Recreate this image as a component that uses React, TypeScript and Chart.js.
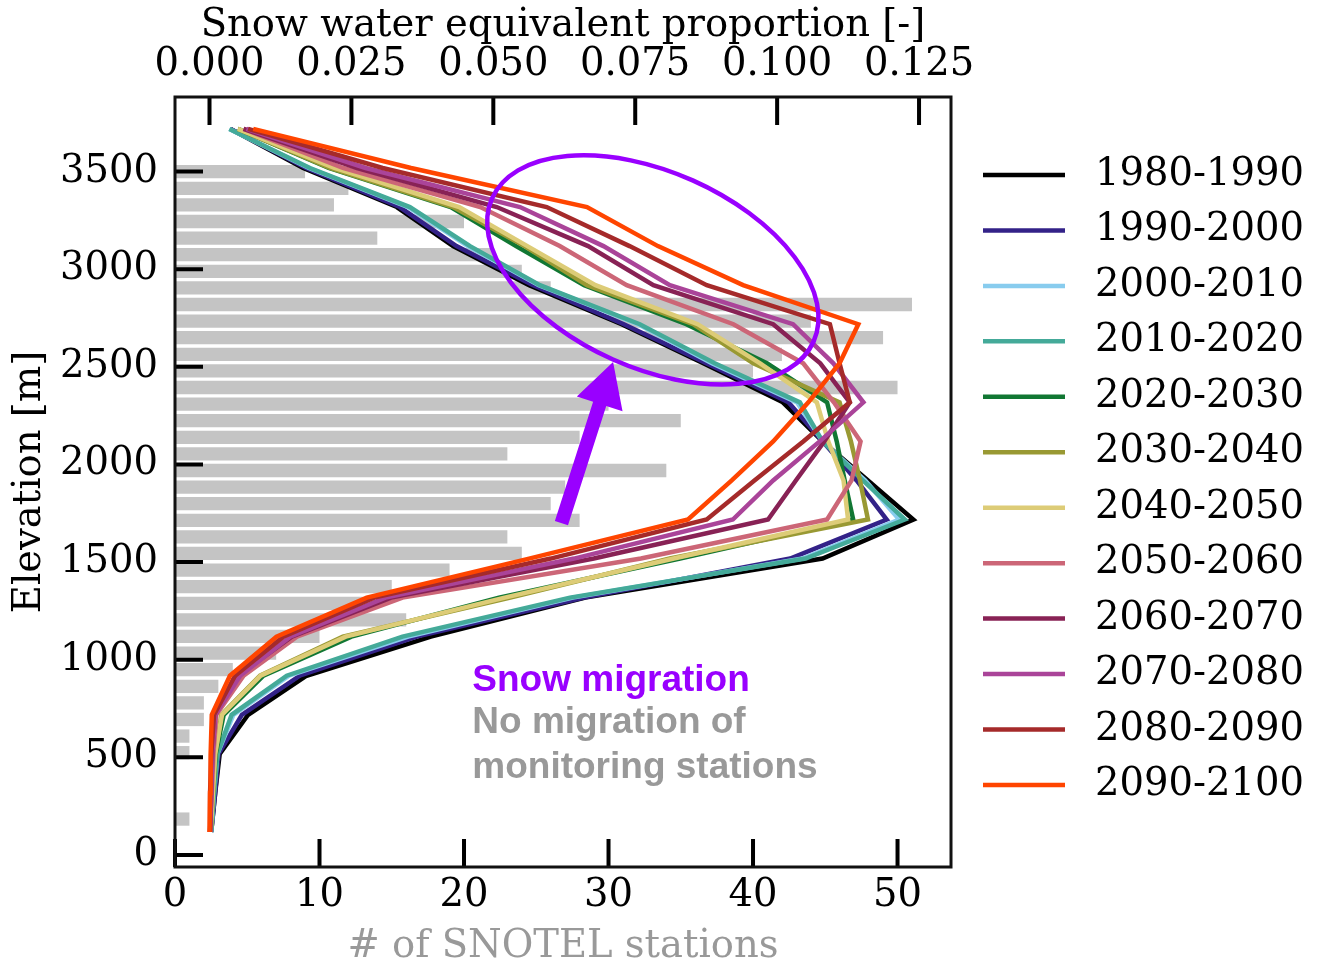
import React, { useEffect, useRef } from "react";
import { Chart, registerables } from "chart.js";

Chart.register(...registerables);

// ---- Histogram of SNOTEL stations (bin centres in m, station counts) ----
const BAR_ELEVATIONS = [
  3499, 3414, 3329, 3244, 3159, 3074, 2989, 2904, 2819, 2734,
  2649, 2564, 2479, 2394, 2309, 2224, 2139, 2054, 1969, 1884,
  1799, 1714, 1629, 1544, 1459, 1374, 1289, 1204, 1119, 1034,
  949, 864, 779, 694, 609, 524, 439, 354, 269, 184,
];
const STATION_COUNTS = [
  9, 12, 11, 20, 14, 22, 24, 26, 51, 44,
  49, 42, 40, 50, 30, 35, 28, 23, 34, 27,
  26, 28, 23, 24, 19, 15, 13, 16, 10, 7,
  4, 3, 2, 2, 1, 1, 0, 0, 0, 1,
];

// ---- SWE proportion profiles (elevation in m) ----
const LINE_ELEVATIONS = [
  118, 318, 518, 718, 918, 1118, 1318, 1518, 1718, 1918,
  2118, 2318, 2518, 2718, 2918, 3118, 3318, 3518, 3718,
];

const DECADES = [
  "1980-1990", "1990-2000", "2000-2010", "2010-2020", "2020-2030", "2030-2040",
  "2040-2050", "2050-2060", "2060-2070", "2070-2080", "2080-2090", "2090-2100",
];
const COLORS = [
  "#000000", "#332288", "#88CCEE", "#44AA99", "#117733", "#999933",
  "#DDCC77", "#CC6677", "#882255", "#AA4499", "#A52A2A", "#FF4500",
];

const SWE_1980 = [0.0003, 0.001, 0.0018, 0.0068, 0.0171, 0.039, 0.0662, 0.108, 0.124, 0.116, 0.108, 0.101, 0.087, 0.0726, 0.0563, 0.0429, 0.033, 0.0165, 0.0037];
const SWE_1990 = [0.0003, 0.001, 0.0016, 0.0057, 0.0159, 0.0365, 0.066, 0.1023, 0.1193, 0.114, 0.108, 0.102, 0.0875, 0.073, 0.057, 0.0435, 0.0335, 0.017, 0.0037];
const SWE_2000 = [0.0003, 0.0008, 0.0014, 0.0042, 0.014, 0.035, 0.064, 0.1045, 0.1215, 0.1155, 0.108, 0.1035, 0.0885, 0.0755, 0.058, 0.0455, 0.035, 0.0175, 0.0035];
const SWE_2010 = [0.0003, 0.0008, 0.0014, 0.0039, 0.0136, 0.034, 0.0635, 0.105, 0.1225, 0.1151, 0.108, 0.104, 0.089, 0.0758, 0.0582, 0.0459, 0.0353, 0.0177, 0.0035];
const SWE_2020 = [0.0002, 0.0006, 0.0011, 0.0025, 0.0095, 0.025, 0.051, 0.0829, 0.1134, 0.1119, 0.1105, 0.1088, 0.0982, 0.084, 0.066, 0.054, 0.0425, 0.021, 0.005];
const SWE_2030 = [0.0002, 0.0006, 0.001, 0.0021, 0.0089, 0.0235, 0.053, 0.0811, 0.116, 0.1146, 0.113, 0.111, 0.0958, 0.0852, 0.0665, 0.0555, 0.0429, 0.0212, 0.005];
const SWE_2040 = [0.0002, 0.0006, 0.001, 0.0022, 0.009, 0.024, 0.052, 0.0818, 0.1125, 0.1117, 0.109, 0.107, 0.097, 0.086, 0.068, 0.056, 0.044, 0.022, 0.005];
const SWE_2050 = [0.0001, 0.0004, 0.0007, 0.0012, 0.006, 0.0154, 0.034, 0.076, 0.1088, 0.1131, 0.1147, 0.11, 0.1046, 0.0923, 0.0735, 0.0617, 0.0477, 0.0235, 0.006];
const SWE_2060 = [0.0001, 0.0003, 0.0005, 0.001, 0.005, 0.0145, 0.032, 0.0677, 0.0984, 0.1033, 0.1083, 0.1128, 0.1076, 0.0993, 0.0782, 0.0667, 0.0506, 0.026, 0.006];
const SWE_2070 = [0.0001, 0.0003, 0.0005, 0.001, 0.0054, 0.0142, 0.031, 0.0642, 0.0922, 0.0993, 0.1075, 0.1152, 0.1099, 0.1028, 0.0811, 0.0694, 0.0547, 0.0275, 0.0065];
const SWE_2080 = [0.0001, 0.0001, 0.0003, 0.0008, 0.0045, 0.013, 0.029, 0.0601, 0.0876, 0.096, 0.1046, 0.1128, 0.111, 0.1093, 0.0876, 0.074, 0.0594, 0.0305, 0.0068];
const SWE_2090 = [0.0, 0.0001, 0.0002, 0.0004, 0.0036, 0.0118, 0.0277, 0.0563, 0.0843, 0.092, 0.0993, 0.1055, 0.111, 0.1143, 0.094, 0.079, 0.0665, 0.0355, 0.0077];

const SWE_SERIES = [
  SWE_1980, SWE_1990, SWE_2000, SWE_2010, SWE_2020, SWE_2030,
  SWE_2040, SWE_2050, SWE_2060, SWE_2070, SWE_2080, SWE_2090,
];

// ---- Tick values ----
const BOTTOM_TICKS = [0, 10, 20, 30, 40, 50];
const TOP_TICKS = [0, 0.025, 0.05, 0.075, 0.1, 0.125];
const Y_TICKS = [0, 500, 1000, 1500, 2000, 2500, 3000, 3500];

// ---- Annotations (data coordinates: SWE proportion, elevation) ----
const ELLIPSE_CENTER = [0.0781, 2996];
const ARROW_TAIL = [0.0620, 1699];
const ARROW_TIP = [0.0711, 2525];
const NOTE_X = 0.0463;
const NOTES = [
  { text: "Snow migration", elev: 892, color: "#9900FF" },
  { text: "No migration of", elev: 676, color: "#999999" },
  { text: "monitoring stations", elev: 446, color: "#999999" },
];

const SERIF = "'DejaVu Serif', serif";
const SANS = "'Liberation Sans', Arial, sans-serif";
const PURPLE = "#9900FF";
const FONT_SIZE = 38.5;

const decorPlugin = {
  id: "decor",
  afterDatasetsDraw(chart: any) {
    const { ctx, chartArea: a, scales } = chart;
    const x2 = scales.x2;
    const y = scales.y;
    ctx.save();

    // inward tick marks
    ctx.strokeStyle = "#000";
    ctx.lineWidth = 4;
    ctx.beginPath();
    for (const v of TOP_TICKS) {
      const px = x2.getPixelForValue(v);
      ctx.moveTo(px, a.top);
      ctx.lineTo(px, a.top + 28);
    }
    for (const v of BOTTOM_TICKS) {
      const px = scales.x.getPixelForValue(v);
      ctx.moveTo(px, a.bottom);
      ctx.lineTo(px, a.bottom - 28);
    }
    for (const v of Y_TICKS) {
      const py = y.getPixelForValue(v);
      ctx.moveTo(a.left, py);
      ctx.lineTo(a.left + 28, py);
    }
    ctx.stroke();

    // frame
    ctx.lineWidth = 3;
    ctx.strokeStyle = "#111";
    ctx.strokeRect(a.left, a.top, a.right - a.left, a.bottom - a.top);

    // ellipse annotation
    const cx = x2.getPixelForValue(ELLIPSE_CENTER[0]);
    const cy = y.getPixelForValue(ELLIPSE_CENTER[1]);
    ctx.beginPath();
    ctx.ellipse(cx, cy, 176, 98, (24 * Math.PI) / 180, 0, Math.PI * 2);
    ctx.lineWidth = 4.5;
    ctx.strokeStyle = PURPLE;
    ctx.stroke();

    // arrow annotation
    const tx = x2.getPixelForValue(ARROW_TAIL[0]);
    const ty = y.getPixelForValue(ARROW_TAIL[1]);
    const hx = x2.getPixelForValue(ARROW_TIP[0]);
    const hy = y.getPixelForValue(ARROW_TIP[1]);
    const len = Math.hypot(hx - tx, hy - ty);
    const ux = (hx - tx) / len;
    const uy = (hy - ty) / len;
    const nx = -uy;
    const ny = ux;
    const sw = 6.9;
    const hw = 24;
    const hl = 44;
    const bx = hx - ux * hl;
    const by = hy - uy * hl;
    ctx.beginPath();
    ctx.moveTo(tx + nx * sw, ty + ny * sw);
    ctx.lineTo(bx + nx * sw, by + ny * sw);
    ctx.lineTo(bx + nx * hw, by + ny * hw);
    ctx.lineTo(hx, hy);
    ctx.lineTo(bx - nx * hw, by - ny * hw);
    ctx.lineTo(bx - nx * sw, by - ny * sw);
    ctx.lineTo(tx - nx * sw, ty - ny * sw);
    ctx.closePath();
    ctx.fillStyle = PURPLE;
    ctx.fill();

    // text notes
    ctx.font = `bold 37px ${SANS}`;
    ctx.textAlign = "left";
    ctx.textBaseline = "middle";
    const nxp = x2.getPixelForValue(NOTE_X);
    for (const n of NOTES) {
      ctx.fillStyle = n.color;
      ctx.fillText(n.text, nxp, y.getPixelForValue(n.elev));
    }

    // legend (right side)
    const lines = chart.data.datasets.filter((d: any) => d.type === "line");
    ctx.font = `${FONT_SIZE}px ${SERIF}`;
    lines.forEach((d: any, i: number) => {
      const ly = 175 + i * 55.45;
      ctx.beginPath();
      ctx.moveTo(983, ly);
      ctx.lineTo(1065, ly);
      ctx.lineWidth = 4.5;
      ctx.strokeStyle = d.borderColor;
      ctx.stroke();
      ctx.fillStyle = "#000";
      ctx.fillText(d.label, 1095, ly);
    });
    ctx.restore();
  },
};

export default function App() {
  const canvasRef = useRef<HTMLCanvasElement | null>(null);

  useEffect(() => {
    const canvas = canvasRef.current;
    if (!canvas) return;

    const barData = BAR_ELEVATIONS.map((e, i) => ({ x: STATION_COUNTS[i], y: e }));
    const lineSets = SWE_SERIES.map((s, k) => ({
      type: "line" as const,
      label: DECADES[k],
      data: s.map((v, i) => ({ x: v, y: LINE_ELEVATIONS[i] })),
      xAxisID: "x2",
      yAxisID: "y",
      indexAxis: "y" as const,
      borderColor: COLORS[k],
      backgroundColor: COLORS[k],
      borderWidth: 4.5,
      pointRadius: 0,
      fill: false,
      tension: 0,
      order: 12 - k,
    }));

    const tickFont = { family: SERIF, size: FONT_SIZE };

    const chart = new Chart(canvas, {
      type: "bar",
      data: {
        datasets: [
          {
            type: "bar" as const,
            label: "# of SNOTEL stations",
            data: barData as any,
            xAxisID: "x",
            yAxisID: "y",
            indexAxis: "y" as const,
            backgroundColor: "#c4c4c4",
            borderWidth: 0,
            barPercentage: 0.8,
            categoryPercentage: 1,
            order: 20,
          } as any,
          ...(lineSets as any[]),
        ],
      },
      options: {
        indexAxis: "y",
        responsive: false,
        animation: false,
        devicePixelRatio: 1,
        layout: { padding: { left: 0, top: 0, right: 367, bottom: 0 } },
        plugins: { legend: { display: false }, tooltip: { enabled: false } },
        scales: {
          x: {
            type: "linear",
            position: "bottom",
            min: 0,
            max: 53.7,
            offset: false,
            grid: { display: false, drawTicks: false },
            border: { display: false },
            afterBuildTicks: (s: any) => {
              s.ticks = BOTTOM_TICKS.map((v) => ({ value: v }));
            },
            afterFit: (s: any) => {
              s.height = 95;
            },
            ticks: {
              font: tickFont,
              color: "#000",
              padding: 6,
              maxRotation: 0,
              autoSkip: false,
              callback: (v: any) => String(v),
            },
            title: {
              display: true,
              text: "# of SNOTEL stations",
              color: "#999999",
              font: { family: SERIF, size: FONT_SIZE, lineHeight: 0.8 },
              padding: { top: 0, bottom: 0 },
            },
          },
          x2: {
            type: "linear",
            position: "top",
            min: -0.006079,
            max: 0.13063,
            offset: false,
            grid: { display: false, drawTicks: false },
            border: { display: false },
            afterBuildTicks: (s: any) => {
              s.ticks = TOP_TICKS.map((v) => ({ value: v }));
            },
            afterFit: (s: any) => {
              s.height = 97;
            },
            ticks: {
              font: tickFont,
              color: "#000",
              padding: 8.5,
              maxRotation: 0,
              autoSkip: false,
              callback: (v: any) => Number(v).toFixed(3),
            },
            title: {
              display: true,
              text: "Snow water equivalent proportion [-]",
              color: "#000",
              font: { family: SERIF, size: FONT_SIZE },
              padding: { top: 3, bottom: 0 },
            },
          },
          y: {
            type: "linear",
            position: "left",
            min: -61.4,
            max: 3881.5,
            offset: false,
            grid: { display: false, drawTicks: false, offset: false },
            border: { display: false },
            afterBuildTicks: (s: any) => {
              s.ticks = Y_TICKS.map((v) => ({ value: v }));
            },
            afterFit: (s: any) => {
              s.width = 175;
            },
            ticks: {
              font: tickFont,
              color: "#000",
              padding: 17,
              autoSkip: false,
              callback: (v: any) => String(v),
            },
            title: {
              display: true,
              text: "Elevation [m]",
              color: "#000",
              font: { family: SERIF, size: FONT_SIZE },
              padding: { top: 7, bottom: 0 },
            },
          },
        },
      } as any,
      plugins: [decorPlugin],
    });

    return () => {
      chart.destroy();
    };
  }, []);

  return (
    <div
      style={{
        position: "fixed",
        left: 0,
        top: 0,
        width: 1318,
        height: 962,
        background: "#fff",
      }}
    >
      <canvas ref={canvasRef} width={1318} height={962} style={{ display: "block" }} />
    </div>
  );
}
